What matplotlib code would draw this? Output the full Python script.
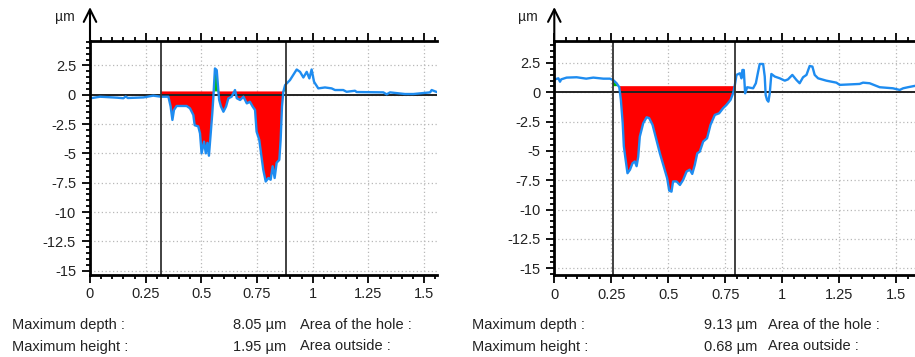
import numpy as np
import matplotlib
matplotlib.use("Agg")
import matplotlib.pyplot as plt
from matplotlib.ticker import MultipleLocator, FuncFormatter
from matplotlib.patches import Rectangle

plt.rcParams['font.family'] = ['Liberation Sans', 'DejaVu Sans']
plt.rcParams['axes.unicode_minus'] = False

# profile 1 (left), x in mm, height in um
x_left = [0.0, 0.045, 0.12, 0.15, 0.16, 0.17, 0.24, 0.284, 0.319, 0.352, 0.362, 0.37, 0.377, 0.389,
          0.434, 0.449, 0.464, 0.47, 0.486, 0.494, 0.501, 0.512, 0.52, 0.527, 0.534, 0.542, 0.549,
          0.554, 0.561, 0.569, 0.576, 0.58, 0.588, 0.599, 0.611, 0.621, 0.636, 0.651, 0.659, 0.674,
          0.689, 0.704, 0.718, 0.73, 0.741, 0.748, 0.76, 0.768, 0.778, 0.789, 0.801, 0.811, 0.82,
          0.829, 0.838, 0.85, 0.856, 0.862, 0.868, 0.876, 0.898, 0.928, 0.943, 0.958, 0.973, 0.985,
          0.995, 1.006, 1.025, 1.055, 1.085, 1.1, 1.137, 1.152, 1.19, 1.197, 1.317, 1.332, 1.347,
          1.414, 1.452, 1.527, 1.534, 1.557]
y_left = [-0.31, -0.17, -0.25, -0.3, -0.15, -0.28, -0.23, -0.08, -0.17, -0.17, -1.0, -2.15, -1.3, -0.96,
          -0.96, -1.16, -1.73, -2.6, -2.7, -3.3, -5.0, -4.0, -5.0, -4.1, -5.2, -3.3, -1.6,
          -0.17, 2.24, 2.1, 0.4, -0.45, -1.0, -1.45, -1.0, -0.31, -0.17, 0.4, -0.3, -0.45,
          -0.17, -0.74, -0.6, -1.0, -1.3, -3.15, -3.85, -5.0, -6.4, -7.4, -7.1, -7.25, -6.1,
          -7.1, -5.8, -5.55, -3.85, -1.0, 0.25, 0.82, 1.25, 2.15, 1.95, 1.47, 1.95, 1.39,
          2.15, 1.1, 0.54, 0.62, 0.54, 0.4, 0.4, 0.25, 0.34, 0.23, 0.2, 0.03, 0.2,
          0.06, 0.06, 0.2, 0.4, 0.23]
level_left = 0.28
bounds_left = [0.319, 0.878]

# profile 2 (right)
x_right = [0.003, 0.018, 0.025, 0.03, 0.054, 0.098, 0.14, 0.171, 0.215, 0.244, 0.258, 0.273, 0.285,
           0.292, 0.3, 0.305, 0.313, 0.321, 0.332, 0.343, 0.353, 0.361, 0.368, 0.375, 0.39, 0.405,
           0.416, 0.431, 0.448, 0.463, 0.48, 0.495, 0.504, 0.514, 0.521, 0.536, 0.551, 0.565, 0.58,
           0.594, 0.605, 0.616, 0.627, 0.638, 0.653, 0.67, 0.685, 0.704, 0.723, 0.74, 0.755, 0.773,
           0.784, 0.792, 0.799, 0.814, 0.821, 0.825, 0.831, 0.837, 0.846, 0.872, 0.884, 0.894, 0.901,
           0.916, 0.923, 0.927, 0.933, 0.939, 0.945, 0.952, 0.967, 0.989, 1.011, 1.025, 1.044, 1.062,
           1.076, 1.091, 1.106, 1.12, 1.132, 1.142, 1.157, 1.193, 1.237, 1.252, 1.339, 1.354, 1.383,
           1.427, 1.485, 1.515, 1.53, 1.551, 1.58]
y_right = [1.1, 1.19, 0.9, 1.1, 1.25, 1.28, 1.16, 1.25, 1.16, 1.16, 1.05, 0.77, 0.43,
           -0.65, -2.64, -4.6, -5.77, -6.9, -6.6, -6.05, -5.9, -6.3, -5.5, -3.78, -2.64, -2.13,
           -2.2, -2.78, -4.06, -5.2, -6.33, -7.33, -8.38, -8.47, -7.6, -7.6, -7.9, -7.47, -6.76,
           -6.6, -6.96, -6.2, -5.2, -5.06, -4.2, -3.92, -2.78, -1.93, -1.79, -1.36, -1.08, -0.65,
           -0.09, 0.63, 1.48, 1.62, 1.19, 1.9, 1.9, -0.09, 0.43, 0.34, 0.77, 1.76, 2.41,
           2.41, 1.34, -0.23, -0.65, -0.8, -0.09, 1.56, 1.34, 1.19, 0.99, 1.1, 1.48, 1.05,
           0.77, 1.28, 1.48, 2.24, 2.19, 1.48, 1.19, 0.99, 0.82, 0.63, 0.71, 0.82, 0.77,
           0.43, 0.34, 0.2, 0.34, 0.43, 0.54]
level_right = 0.52
bounds_right = [0.256, 0.794]

texts_left = [("Maximum depth :", "8.05 µm", "Area of the hole :"),
              ("Maximum height :", "1.95 µm", "Area outside :")]
texts_right = [("Maximum depth :", "9.13 µm", "Area of the hole :"),
               ("Maximum height :", "0.68 µm", "Area outside :")]

W, H = 915, 357
fig = plt.figure(figsize=(W / 100, H / 100), dpi=100)

def fx(px):
    return px / W

def fy(py):
    return 1 - py / H

def draw_profile(ax, x, y, level, bounds, xlim, ylim):
    x = np.array(x)
    y = np.array(y)
    ax.set_xlim(*xlim)
    ax.set_ylim(*ylim)

    # grid
    ax.xaxis.set_major_locator(MultipleLocator(0.25))
    ax.xaxis.set_minor_locator(MultipleLocator(0.05))
    ax.yaxis.set_major_locator(MultipleLocator(2.5))
    ax.yaxis.set_minor_locator(MultipleLocator(0.5))
    ax.grid(True, which='major', color='#b8b8b8', linestyle=(0, (1, 2)), linewidth=0.9)
    ax.set_axisbelow(True)

    # hole (red) and peaks (green) between the two cursors
    clip = Rectangle((bounds[0], -50), bounds[1] - bounds[0], 100, transform=ax.transData)
    red = ax.fill_between(x, y, level, where=y < level, interpolate=True, color='#ff0000', lw=0, zorder=2)
    green = ax.fill_between(x, y, level, where=y > level, interpolate=True, color='#00c000', lw=0, zorder=2)
    red.set_clip_path(clip)
    green.set_clip_path(clip)

    ax.axhline(0, color='#222222', lw=1.4, zorder=3)
    ax.plot(x, y, color='#1e8cf0', lw=1.7, zorder=4)
    for b in bounds:
        ax.axvline(b, color='#333333', lw=1.3, zorder=5)

    fmt = FuncFormatter(lambda v, p: '%g' % round(v, 2))
    ax.xaxis.set_major_formatter(fmt)
    ax.yaxis.set_major_formatter(fmt)

    for s in ['left', 'top', 'bottom']:
        ax.spines[s].set_linewidth(2)
        ax.spines[s].set_zorder(6)
    ax.spines['right'].set_visible(False)
    ax.tick_params(axis='x', which='both', direction='out', top=True, bottom=True, width=1.3,
                   labelsize=10.5, pad=3.5, labelcolor='#222222')
    ax.tick_params(axis='x', which='major', length=5.5)
    ax.tick_params(axis='x', which='minor', length=3)
    ax.tick_params(axis='y', which='both', direction='out', left=True, right=False, width=1.3,
                   labelsize=10.5, pad=4, labelcolor='#222222')
    ax.tick_params(axis='y', which='major', length=6)
    ax.tick_params(axis='y', which='minor', length=3)

    # y arrow above the plot
    ax.annotate('', xy=(0, 1.145), xytext=(0, 0.99), xycoords='axes fraction',
                arrowprops=dict(arrowstyle='->,head_length=0.6,head_width=0.3', lw=1.5,
                                color='black', shrinkA=0, shrinkB=0, mutation_scale=15),
                annotation_clip=False)
    ax.text(-0.072, 1.104, 'µm', transform=ax.transAxes, ha='center', va='center',
            fontsize=10, color='#222222')

ax1 = fig.add_axes([fx(90), fy(275), fx(437 - 90), (275 - 41) / H])
draw_profile(ax1, x_left, y_left, level_left, bounds_left, (0, 1.558), (-15.37, 4.58))

ax2 = fig.add_axes([fx(554.3), fy(275.3), fx(915 - 554.3), (275.3 - 41) / H])
draw_profile(ax2, x_right, y_right, level_right, bounds_right, (0, 1.582), (-15.6, 4.37))

# result text below the charts
rows_y = [325, 346.5]
for texts, x0, xv, xa in [(texts_left, 11.5, 286, 300), (texts_right, 471.5, 757, 768)]:
    for (label, value, area), py in zip(texts, rows_y):
        fig.text(fx(x0), fy(py), label, ha='left', va='center', fontsize=10.5, color='#222222')
        fig.text(fx(xv), fy(py), value, ha='right', va='center', fontsize=10.5, color='#222222')
        fig.text(fx(xa), fy(py), area, ha='left', va='center', fontsize=10.5, color='#222222')

fig.savefig('out.png', dpi=100)
